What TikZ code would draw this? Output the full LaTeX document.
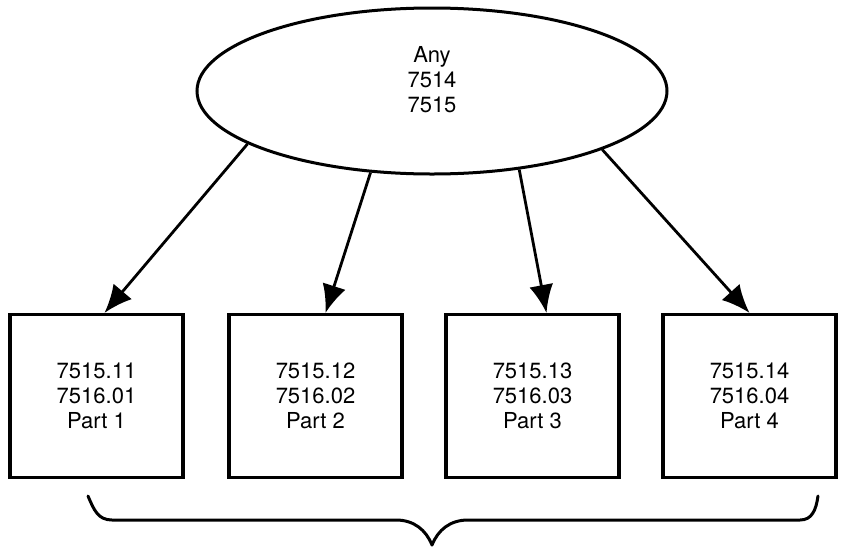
\documentclass[tikz,border=0pt]{standalone}
\usepackage{fontspec}
\setmainfont{TeX Gyre Heros}
\usetikzlibrary{shapes.geometric,arrows.meta}
\begin{document}
\begin{tikzpicture}[x=1pt,y=-1pt,
  oval/.style={draw,ellipse,line width=3pt,minimum width=470pt,minimum height=166pt,inner sep=0pt},
  partbox/.style={draw,rectangle,line width=3.2pt,minimum width=173pt,minimum height=163pt,inner sep=0pt,align=center,font=\fontsize{22}{25}\selectfont},
  arr/.style={line width=2.8pt,-{Latex[length=28pt,width=24pt]}},
  bracepath/.style={line width=3pt,line cap=round,line join=round}]
\useasboundingbox (0,0) rectangle (866,552);
\node[oval] (ell) at (432,91) {};
\node[align=center,font=\fontsize{22}{25}\selectfont] (top) at (432,80) {Any\\7514\\7515};
\node[partbox] (b1) at (96.5,396) {7515.11\\7516.01\\Part 1};
\node[partbox] (b2) at (315.5,396) {7515.12\\7516.02\\Part 2};
\node[partbox] (b3) at (532.5,396) {7515.13\\7516.03\\Part 3};
\node[partbox] (b4) at (749.5,396) {7515.14\\7516.04\\Part 4};
\draw[arr] (ell.196) -- ([xshift=8pt]b1.north);
\draw[arr] (ell.233) -- ([xshift=10pt]b2.north);
\draw[arr] (ell.318) -- ([xshift=14pt]b3.north);
\draw[arr] (ell.341) -- ([xshift=0pt]b4.north);
\draw[bracepath] (88,496) .. controls (94,510) and (98,520) .. (112,520) -- (396,520)
  .. controls (414,520) and (426,530) .. (432,545)
  .. controls (438,530) and (450,520) .. (468,520) -- (800,520)
  .. controls (812,520) and (816,510) .. (818,496);
\end{tikzpicture}
\end{document}
